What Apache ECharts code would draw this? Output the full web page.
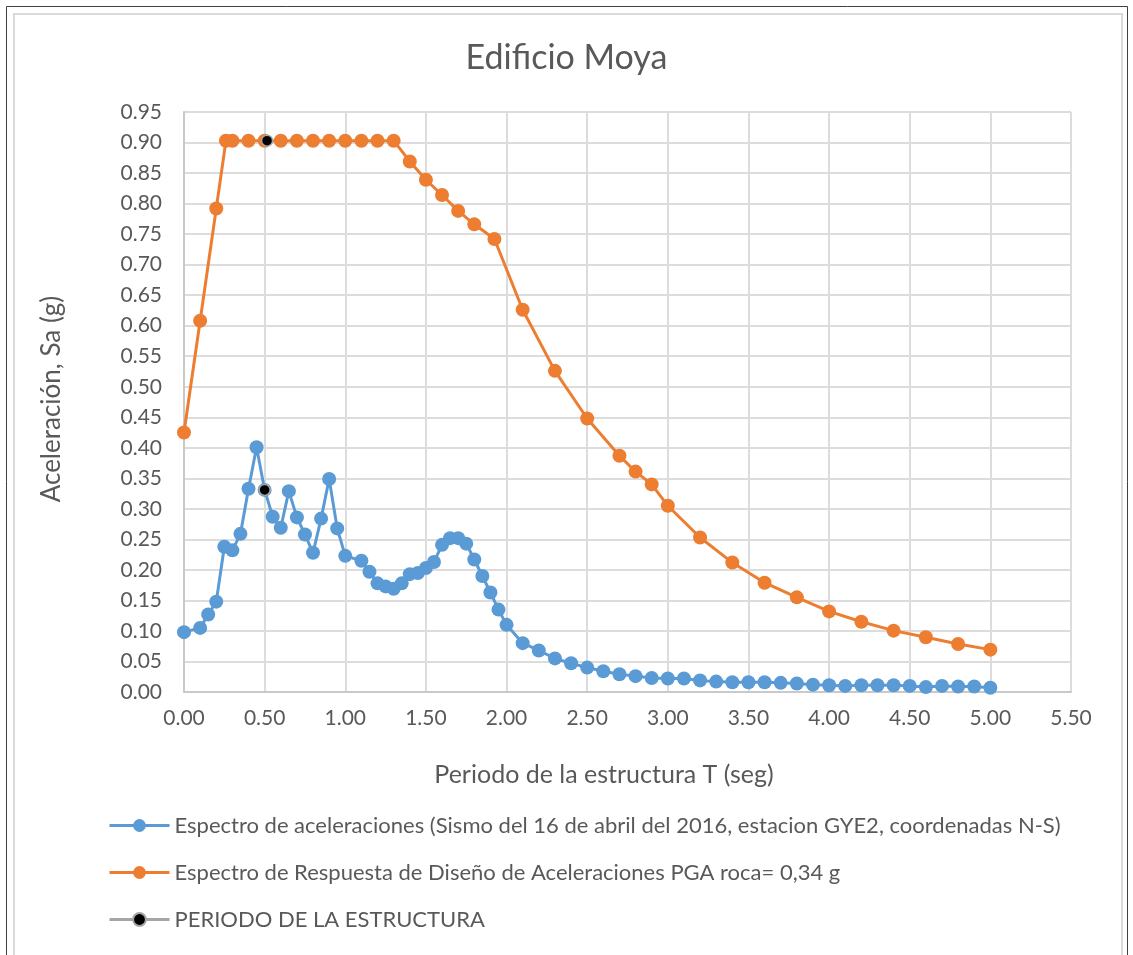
<!DOCTYPE html>
<html>
<head>
<meta charset="utf-8">
<script src="https://cdn.jsdelivr.net/npm/echarts@6/dist/echarts.min.js"></script>
<style>
  html, body { margin: 0; padding: 0; background: #fff; }
  #chart { width: 1133px; height: 955px; }
</style>
</head>
<body>
<div id="chart"></div>
<script>
// Espectro medido (sismo 16 abril 2016, GYE2, N-S)
const periodosSismo = [0, 0.1, 0.15, 0.2, 0.25, 0.3, 0.35, 0.4, 0.45, 0.5, 0.55, 0.6, 0.65, 0.7, 0.75, 0.8, 0.85, 0.9, 0.95, 1.0,
  1.1, 1.15, 1.2, 1.25, 1.3, 1.35, 1.4, 1.45, 1.5, 1.55, 1.6, 1.65, 1.7, 1.75, 1.8, 1.85, 1.9, 1.95, 2.0,
  2.1, 2.2, 2.3, 2.4, 2.5, 2.6, 2.7, 2.8, 2.9, 3.0, 3.1, 3.2, 3.3, 3.4, 3.5, 3.6, 3.7, 3.8, 3.9, 4.0,
  4.1, 4.2, 4.3, 4.4, 4.5, 4.6, 4.7, 4.8, 4.9, 5.0]
const saSismo = [0.098, 0.105, 0.127, 0.148, 0.238, 0.232, 0.259, 0.333, 0.401, 0.331, 0.287, 0.269, 0.329, 0.286, 0.258, 0.228, 0.284, 0.349, 0.268, 0.223,
  0.215, 0.197, 0.178, 0.173, 0.169, 0.178, 0.193, 0.195, 0.203, 0.213, 0.241, 0.252, 0.252, 0.243, 0.217, 0.190, 0.163, 0.135, 0.110,
  0.080, 0.068, 0.055, 0.047, 0.040, 0.034, 0.029, 0.026, 0.023, 0.022, 0.022, 0.019, 0.017, 0.016, 0.016, 0.016, 0.015, 0.014, 0.012, 0.011,
  0.010, 0.011, 0.011, 0.011, 0.010, 0.008, 0.010, 0.009, 0.009, 0.007]

// Espectro de diseño, PGA roca = 0,34 g
const periodosDiseno = [0, 0.1, 0.2, 0.26, 0.3, 0.4, 0.5, 0.6, 0.7, 0.8, 0.9, 1.0, 1.1, 1.2, 1.3,
  1.4, 1.5, 1.6, 1.7, 1.8, 1.925, 2.1, 2.3, 2.5, 2.7, 2.8, 2.9, 3.0, 3.2, 3.4, 3.6, 3.8, 4.0, 4.2, 4.4, 4.6, 4.8, 5.0]
const saDiseno = [0.425, 0.608, 0.792, 0.903, 0.903, 0.903, 0.903, 0.903, 0.903, 0.903, 0.903, 0.903, 0.903, 0.903, 0.903,
  0.869, 0.839, 0.814, 0.788, 0.766, 0.742, 0.626, 0.526, 0.448, 0.387, 0.361, 0.340, 0.305, 0.253, 0.212, 0.179, 0.155, 0.132, 0.115, 0.1005, 0.0896, 0.0787, 0.0694]

// periodo de la estructura (sobre cada espectro)
const periodoEstructura = [0.515, 0.5]
const saEstructura = [0.903, 0.331]

const nombres = [
  'Espectro de aceleraciones (Sismo del 16 de abril del 2016, estacion GYE2, coordenadas N-S)',
  'Espectro de Respuesta de Diseño de Aceleraciones PGA roca= 0,34 g',
  'PERIODO DE LA ESTRUCTURA'
]

const fuente = 'Lato'
const gris = '#595959'

function pares(xs, ys) {
  return xs.map((x, i) => [x, ys[i]])
}

const chart = echarts.init(document.getElementById('chart'))
chart.setOption({
  animation: false,
  textStyle: { fontFamily: fuente, color: gris },
  title: {
    text: 'Edificio Moya',
    left: 'center',
    top: 36,
    textStyle: { fontFamily: fuente, fontSize: 34, fontWeight: 'normal', color: gris }
  },
  grid: { left: 184, right: 62, top: 112, bottom: 263, containLabel: false },
  legend: {
    orient: 'vertical',
    left: 108,
    top: 813,
    padding: 0,
    itemWidth: 60,
    itemHeight: 16,
    itemGap: 22,
    data: nombres,
    lineStyle: { width: 3 },
    textStyle: { fontFamily: fuente, fontSize: 22, color: gris, lineHeight: 25 }
  },
  xAxis: {
    type: 'value',
    min: 0,
    max: 5.5,
    interval: 0.5,
    axisLine: { show: true, onZero: false, lineStyle: { color: '#c9c9c9', width: 2 } },
    axisTick: { show: false },
    axisLabel: { fontSize: 21, color: gris, margin: 16, formatter: v => v.toFixed(2) },
    splitLine: { show: true, lineStyle: { color: '#dcdcdc', width: 2 } }
  },
  yAxis: {
    type: 'value',
    min: 0,
    max: 0.95,
    interval: 0.05,
    axisLine: { show: true, lineStyle: { color: '#c9c9c9', width: 2 } },
    axisTick: { show: false },
    axisLabel: { fontSize: 21, color: gris, margin: 22, formatter: v => v.toFixed(2) },
    splitLine: { show: true, lineStyle: { color: '#dcdcdc', width: 2 } }
  },
  graphic: [
    { type: 'rect', silent: true, shape: { x: 6.5, y: 6.5, width: 1121, height: 1000 },
      style: { fill: 'none', stroke: '#404040', lineWidth: 1 } },
    { type: 'rect', silent: true, shape: { x: 14, y: 14, width: 1108, height: 1000 },
      style: { fill: 'none', stroke: '#d9d9d9', lineWidth: 2 } },
    { type: 'text', silent: true, position: [604, 775],
      style: { text: 'Periodo de la estructura T (seg)', fontFamily: fuente, fontSize: 25,
        fill: gris, align: 'center', verticalAlign: 'middle' } },
    { type: 'text', silent: true, position: [52, 399], rotation: Math.PI / 2,
      style: { text: 'Aceleración, Sa (g)', fontFamily: fuente, fontSize: 26, fill: gris,
        align: 'center', verticalAlign: 'middle' } }
  ],
  series: [
    {
      name: nombres[0],
      type: 'line',
      data: pares(periodosSismo, saSismo),
      symbol: 'circle',
      symbolSize: 14,
      itemStyle: { color: '#5B9BD5' },
      lineStyle: { color: '#5B9BD5', width: 3 },
      z: 3
    },
    {
      name: nombres[1],
      type: 'line',
      data: pares(periodosDiseno, saDiseno),
      symbol: 'circle',
      symbolSize: 14,
      itemStyle: { color: '#ED7D31' },
      lineStyle: { color: '#ED7D31', width: 3 },
      z: 2
    },
    {
      name: nombres[2],
      type: 'line',
      data: [[periodoEstructura[0], saEstructura[0]], '-', [periodoEstructura[1], saEstructura[1]]],
      connectNulls: false,
      symbol: 'circle',
      symbolSize: 11,
      itemStyle: { color: '#000000', borderColor: '#A5A5A5', borderWidth: 1.5 },
      lineStyle: { color: '#A5A5A5', width: 3 },
      z: 5
    }
  ]
})
</script>
</body>
</html>
